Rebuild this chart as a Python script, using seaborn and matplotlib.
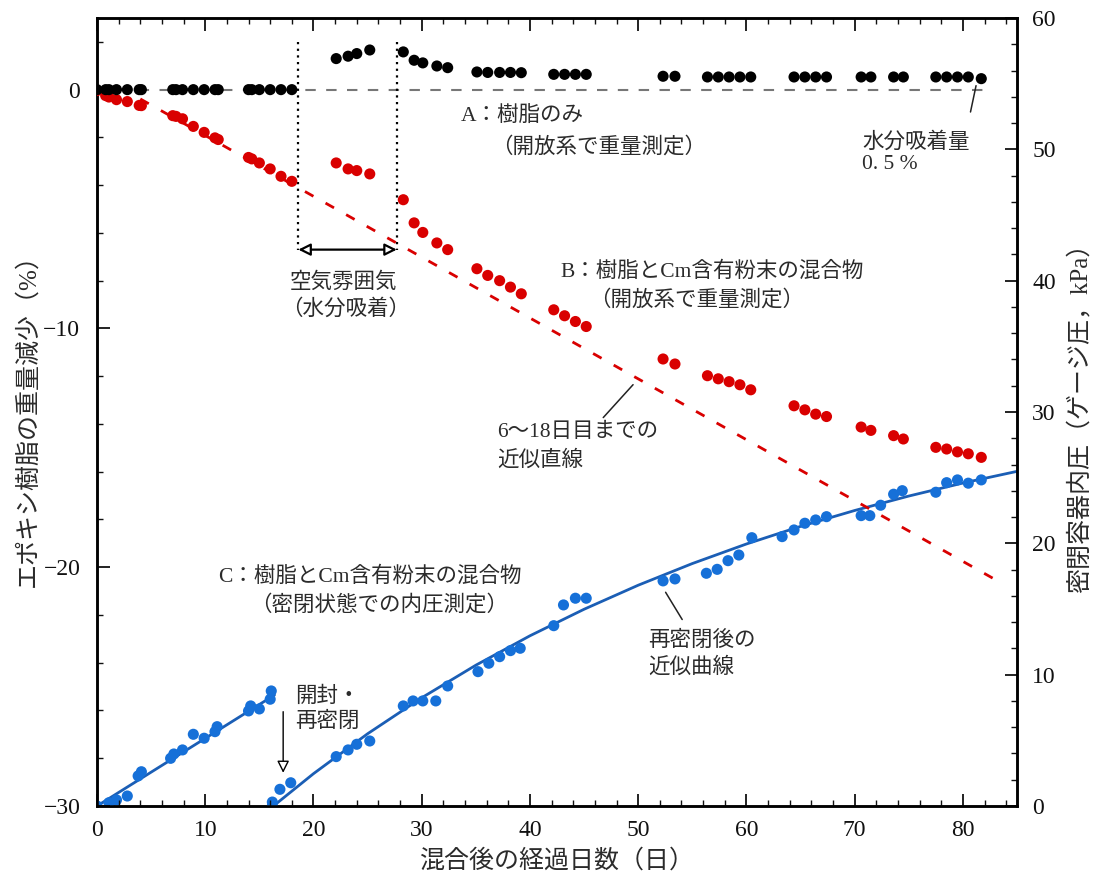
import matplotlib
matplotlib.use("Agg")
import matplotlib.pyplot as plt
from matplotlib.ticker import MultipleLocator
import seaborn as sns

# ---------------- data ----------------
# A (resin only) and B (resin + Cm powder), weight change (%) on left axis
days_ab_1 = [0, 0.8, 1.1, 1.8, 2.8, 3.9, 4.1, 7.0, 7.3, 7.9, 8.9, 9.9, 10.9, 11.2,
             14.0, 14.3, 15.0, 16.0, 17.0, 18.0]
resin_1 = [0, 0, 0, 0, 0, 0, 0, 0, 0, 0, 0, 0, 0, 0, 0, 0, 0, 0, 0, 0]
mix_1 = [-0.04, -0.25, -0.31, -0.42, -0.50, -0.66, -0.67, -1.09, -1.12, -1.22, -1.54,
         -1.79, -2.02, -2.09, -2.84, -2.90, -3.07, -3.32, -3.63, -3.84]

days_ab_2 = [22.1, 23.2, 24.0, 25.2]
resin_2 = [1.30, 1.40, 1.51, 1.66]
mix_2 = [-3.07, -3.32, -3.39, -3.53]

days_ab_3 = [28.3, 29.3, 30.1, 31.4, 32.4, 35.1, 36.1, 37.2, 38.2, 39.2, 42.2, 43.2,
             44.2, 45.2, 52.3, 53.4, 56.4, 57.4, 58.4, 59.4, 60.4, 64.4, 65.4, 66.4,
             67.4, 70.6, 71.5, 73.6, 74.5, 77.5, 78.5, 79.5, 80.5, 81.7]
resin_3 = [1.58, 1.23, 1.12, 0.99, 0.92, 0.74, 0.72, 0.72, 0.72, 0.71, 0.64, 0.64,
           0.64, 0.64, 0.56, 0.56, 0.53, 0.53, 0.53, 0.53, 0.53, 0.53, 0.53, 0.53,
           0.53, 0.53, 0.53, 0.53, 0.53, 0.53, 0.53, 0.53, 0.53, 0.46]
mix_3 = [-4.61, -5.58, -5.98, -6.42, -6.70, -7.50, -7.78, -8.00, -8.27, -8.55, -9.22,
         -9.47, -9.71, -9.92, -11.28, -11.49, -11.98, -12.11, -12.23, -12.36, -12.57,
         -13.24, -13.41, -13.59, -13.69, -14.13, -14.27, -14.49, -14.63, -14.98,
         -15.05, -15.17, -15.25, -15.40]

# regression line of B (days 6-18)
reg_days = [4.0, 83.0]
reg_vals = [-0.39, -20.52]

# C: internal pressure (kPa) on right axis
days_c = [0, 1.1, 1.8, 2.8, 3.8, 4.1, 6.8, 7.1, 7.9, 8.9, 9.9, 10.9, 11.1,
          14.0, 14.2, 15.0, 16.0, 16.1, 16.2, 16.2, 16.9, 17.9,
          22.1, 23.2, 24.0, 25.2, 28.3, 29.2, 30.1, 31.3, 32.4,
          35.2, 36.2, 37.2, 38.2, 39.1, 42.2, 43.1, 44.2, 45.2, 52.3, 53.4,
          56.3, 57.3, 58.3, 59.3, 60.5, 63.3, 64.4, 65.4, 66.4, 67.4,
          70.6, 71.4, 72.4, 73.6, 74.4, 77.5, 78.5, 79.5, 80.5, 81.7]
pressure_c = [0, 0.25, 0.46, 0.76, 2.29, 2.61, 3.63, 3.96, 4.27, 5.46, 5.16, 5.66, 6.04,
              7.24, 7.62, 7.39, 8.13, 8.76, 0.0, 0.3, 1.27, 1.77,
              3.76, 4.27, 4.70, 4.95, 7.62, 8.0, 8.0, 8.0, 9.14,
              10.23, 10.87, 11.37, 11.83, 12.01, 13.73, 15.31, 15.82, 15.82, 17.14, 17.29,
              17.72, 18.02, 18.68, 19.11, 20.43, 20.51, 21.02, 21.53, 21.78, 22.03,
              22.11, 22.11, 22.90, 23.74, 24.01, 23.89, 24.62, 24.83, 24.58, 24.83]

# fitted curves of C
fit1_days = [0, 16.4]
fit1_p = [0, 8.45]
fit2_days = [16.3, 20, 25, 30, 35, 40, 45, 50, 55, 60, 65, 70, 75, 80, 85]
fit2_p = [0, 2.46, 5.50, 8.24, 10.72, 12.96, 14.98, 16.81, 18.46, 19.95, 21.29,
          22.50, 23.60, 24.59, 25.48]

zero_days = [0, 82.5]
zero_vals = [0, 0]

x_ticks = [0, 10, 20, 30, 40, 50, 60, 70, 80]
y_ticks = [-30, -20, -10, 0]
y2_ticks = [0, 10, 20, 30, 40, 50, 60]

# ---------------- style ----------------
sns.set_style("white")
plt.rcParams['font.family'] = ['Liberation Serif', 'Noto Sans CJK JP', 'DejaVu Sans']
plt.rcParams['axes.unicode_minus'] = True

BLACK = "#000000"
RED = "#d90000"
BLUE_PT = "#1670d8"
BLUE_LN = "#1b5eb5"
TXT = "#2b2b2b"
CJK = ['Liberation Serif', 'Noto Sans CJK JP', 'DejaVu Sans']

fig = plt.figure(figsize=(10.96, 8.76), dpi=100)
ax = fig.add_axes([97 / 1096, 1 - 806 / 876, 920 / 1096, 788 / 876])
ax2 = ax.twinx()

ax.set_xlim(0, 85)
ax.set_ylim(-30, 3)
ax2.set_ylim(0, 60)

# zero reference line
sns.lineplot(x=zero_days, y=zero_vals, ax=ax, color="#777777", lw=1.5,
             linestyle=(0, (5, 5)), zorder=1)
# regression line
sns.lineplot(x=reg_days, y=reg_vals, ax=ax, color=RED, lw=2.0,
             linestyle=(0, (3.5, 5)), zorder=1)

S = 64
for d, r, m in [(days_ab_1, resin_1, mix_1), (days_ab_2, resin_2, mix_2),
                (days_ab_3, resin_3, mix_3)]:
    sns.scatterplot(x=d, y=m, ax=ax, color=RED, s=S, edgecolor="none", zorder=3,
                    legend=False)
    sns.scatterplot(x=d, y=r, ax=ax, color=BLACK, s=S, edgecolor="none", zorder=3,
                    legend=False)

# dotted vertical lines (air exposure period)
for xv in [18.6, 27.7]:
    ax.plot([xv, xv], [2.0, -6.7], color="black", lw=1.6, linestyle=(0, (1, 2)),
            zorder=2)

# C on right axis
sns.lineplot(x=fit1_days, y=fit1_p, ax=ax2, color=BLUE_LN, lw=2.0, zorder=2)
sns.lineplot(x=fit2_days, y=fit2_p, ax=ax2, color=BLUE_LN, lw=2.0, zorder=2)
sns.scatterplot(x=days_c, y=pressure_c, ax=ax2, color=BLUE_PT, s=S, edgecolor="none",
                zorder=3, legend=False)
ax2.set_ylim(0, 60)
ax2.set_xlim(0, 85)

# ---------------- axes formatting ----------------
ax.set_xticks(x_ticks)
ax.set_yticks(y_ticks)
ax.xaxis.set_minor_locator(MultipleLocator(2))
ax.yaxis.set_minor_locator(MultipleLocator(2))
ax2.set_yticks(y2_ticks)
ax2.yaxis.set_minor_locator(MultipleLocator(2))

ax.tick_params(axis='x', which='both', direction='in', top=True, bottom=True,
               labelsize=17, pad=10, colors="#111111")
ax.tick_params(axis='y', which='both', direction='in', left=True, right=False,
               labelsize=17, pad=12, colors="#111111")
ax2.tick_params(axis='y', which='both', direction='in', right=True, left=False,
                labelsize=17, pad=11, colors="#111111")
for a in (ax, ax2):
    a.tick_params(which='major', length=9, width=1.3)
    a.tick_params(which='minor', length=4.5, width=1.0)
    for sp in a.spines.values():
        sp.set_linewidth(1.8)
        sp.set_color("black")
        sp.set_visible(True)

ax.set_xlabel("混合後の経過日数（日）", fontsize=18, color=TXT, family=CJK)
ax.xaxis.set_label_coords(0.5, -0.07)
ax.xaxis.label.set_va('center')
ax.set_ylabel("エポキシ樹脂の重量減少（%）", fontsize=18, color=TXT, family=CJK)
ax.yaxis.set_label_coords(-0.075, 0.497)
ax.yaxis.label.set_va('center')
ax2.set_ylabel("密閉容器内圧（ゲージ圧，kPa）", fontsize=18, color=TXT, family=CJK,
               rotation=90)
ax2.yaxis.set_label_coords(1.068, 0.5)
ax2.yaxis.label.set_va('center')

# ---------------- annotations ----------------
FS = 15.5
def txt(x, y, s):
    ax.text(x, y, s, fontsize=FS, color=TXT, ha='left', va='center', family=CJK,
            zorder=5)

txt(33.6, -1.13, "A：樹脂のみ")
txt(36.4, -2.43, "（開放系で重量測定）")
txt(70.7, -2.22, "水分吸着量")
txt(70.7, -3.14, "0. 5 %")
txt(17.8, -8.09, "空気雰囲気")
txt(17.0, -9.22, "（水分吸着）")
txt(42.8, -7.62, "B：樹脂とCm含有粉末の混合物")
txt(45.5, -8.80, "（開放系で重量測定）")
txt(37.0, -14.37, "6〜18日目までの")
txt(37.0, -15.54, "近似直線")
txt(11.2, -20.40, "C：樹脂とCm含有粉末の混合物")
txt(14.1, -21.58, "（密閉状態での内圧測定）")
txt(50.9, -23.08, "再密閉後の")
txt(50.9, -24.21, "近似曲線")
txt(18.3, -25.43, "開封・")
txt(18.3, -26.48, "再密閉")

# leader lines
lead = dict(arrowstyle='-', color="#222222", lw=1.1)
ax.annotate("", xy=(81.27, 0.28), xytext=(80.65, -1.05), arrowprops=lead)
ax.annotate("", xy=(49.7, -12.27), xytext=(46.6, -13.82), arrowprops=lead)
ax.annotate("", xy=(52.4, -20.95), xytext=(54.2, -22.29), arrowprops=lead)

# double arrow for air exposure
ax.annotate("", xy=(27.7, -6.70), xytext=(18.6, -6.70),
            arrowprops=dict(arrowstyle="<|-|>", fc="white", ec="black", lw=1.6,
                            mutation_scale=18, shrinkA=0, shrinkB=0))
# arrow for opening / resealing
ax.annotate("", xy=(17.2, -28.61), xytext=(17.2, -26.05),
            arrowprops=dict(arrowstyle="-|>", fc="white", ec="black", lw=1.0,
                            mutation_scale=18, shrinkA=0, shrinkB=0))

ax.set_zorder(ax2.get_zorder() + 1)
ax.patch.set_visible(False)

fig.savefig("out.png", dpi=100)
